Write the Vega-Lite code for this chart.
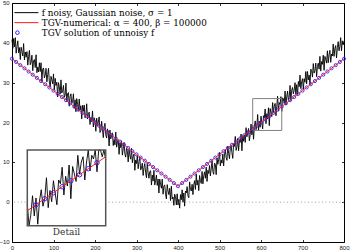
{
  "$schema": "https://vega.github.io/schema/vega-lite/v6.json",
  "width": 332,
  "height": 239,
  "autosize": {"type": "none"},
  "padding": {"left": 12, "top": 3, "right": 6, "bottom": 9},
  "background": "white",
  "config": {
    "view": {"stroke": null},
    "axis": {
      "domainColor": "black", "domainWidth": 1, "tickColor": "black", "tickSize": -2.5, "tickWidth": 0.8,
      "labelFont": "Liberation Sans", "labelFontSize": 6, "labelColor": "#222222",
      "labelOverlap": false, "labelFlush": false,
      "grid": false, "title": null
    },
    "axisX": {"labelPadding": 5},
    "axisY": {"labelPadding": 4.8}
  },
  "datasets": {
    "noisy": [
      {"x":0,"f":40.8},{"x":2,"f":38.6},{"x":4,"f":41.1},{"x":6,"f":39.0},{"x":8,"f":41.3},{"x":10,"f":37.4},{"x":12,"f":39.1},{"x":14,"f":40.5},{"x":16,"f":37.5},{"x":18,"f":38.8},{"x":20,"f":35.8},{"x":22,"f":38.9},{"x":24,"f":37.8},{"x":26,"f":36.7},{"x":28,"f":39.8},{"x":30,"f":35.7},{"x":32,"f":37.7},{"x":34,"f":36.4},{"x":36,"f":37.8},{"x":38,"f":34.4},
      {"x":40,"f":36.5},{"x":42,"f":38.1},{"x":44,"f":34.5},{"x":46,"f":35.1},{"x":48,"f":36.9},{"x":50,"f":33.0},{"x":52,"f":35.5},{"x":54,"f":35.8},{"x":56,"f":33.8},{"x":58,"f":37.0},{"x":60,"f":32.5},{"x":62,"f":33.9},{"x":64,"f":32.7},{"x":66,"f":35.0},{"x":68,"f":32.8},{"x":70,"f":35.0},{"x":72,"f":30.4},{"x":74,"f":33.4},{"x":76,"f":33.7},{"x":78,"f":31.2},
      {"x":80,"f":31.8},{"x":82,"f":33.6},{"x":84,"f":30.2},{"x":86,"f":32.0},{"x":88,"f":33.6},{"x":90,"f":30.2},{"x":92,"f":28.9},{"x":94,"f":31.6},{"x":96,"f":30.7},{"x":98,"f":29.7},{"x":100,"f":32.2},{"x":102,"f":28.1},{"x":104,"f":31.1},{"x":106,"f":29.3},{"x":108,"f":30.1},{"x":110,"f":26.4},{"x":112,"f":30.0},{"x":114,"f":29.0},{"x":116,"f":27.1},{"x":118,"f":30.7},
      {"x":120,"f":27.4},{"x":122,"f":28.0},{"x":124,"f":29.3},{"x":126,"f":26.3},{"x":128,"f":26.9},{"x":130,"f":29.9},{"x":132,"f":25.2},{"x":134,"f":27.3},{"x":136,"f":27.5},{"x":138,"f":24.1},{"x":140,"f":26.5},{"x":142,"f":27.2},{"x":144,"f":24.8},{"x":146,"f":25.2},{"x":148,"f":27.2},{"x":150,"f":23.6},{"x":152,"f":25.7},{"x":154,"f":22.7},{"x":156,"f":26.0},{"x":158,"f":24.5},
      {"x":160,"f":23.0},{"x":162,"f":25.9},{"x":164,"f":23.1},{"x":166,"f":24.2},{"x":168,"f":20.9},{"x":170,"f":24.3},{"x":172,"f":22.9},{"x":174,"f":24.4},{"x":176,"f":21.2},{"x":178,"f":21.8},{"x":180,"f":24.7},{"x":182,"f":20.9},{"x":184,"f":22.2},{"x":186,"f":22.6},{"x":188,"f":19.5},{"x":190,"f":21.2},{"x":192,"f":20.2},{"x":194,"f":22.9},{"x":196,"f":18.9},{"x":198,"f":21.2},
      {"x":200,"f":20.4},{"x":202,"f":17.8},{"x":204,"f":21.1},{"x":206,"f":19.2},{"x":208,"f":20.1},{"x":210,"f":21.4},{"x":212,"f":17.5},{"x":214,"f":17.9},{"x":216,"f":20.3},{"x":218,"f":18.2},{"x":220,"f":16.2},{"x":222,"f":18.9},{"x":224,"f":19.8},{"x":226,"f":16.9},{"x":228,"f":16.1},{"x":230,"f":18.4},{"x":232,"f":17.4},{"x":234,"f":14.1},{"x":236,"f":18.1},{"x":238,"f":15.9},
      {"x":240,"f":16.8},{"x":242,"f":17.4},{"x":244,"f":14.2},{"x":246,"f":15.7},{"x":248,"f":14.4},{"x":250,"f":17.6},{"x":252,"f":13.8},{"x":254,"f":15.1},{"x":256,"f":15.7},{"x":258,"f":12.0},{"x":260,"f":14.9},{"x":262,"f":13.7},{"x":264,"f":15.4},{"x":266,"f":11.8},{"x":268,"f":13.4},{"x":270,"f":15.0},{"x":272,"f":12.1},{"x":274,"f":11.3},{"x":276,"f":13.5},{"x":278,"f":12.8},
      {"x":280,"f":10.1},{"x":282,"f":13.2},{"x":284,"f":11.7},{"x":286,"f":10.8},{"x":288,"f":13.5},{"x":290,"f":9.9},{"x":292,"f":11.5},{"x":294,"f":12.1},{"x":296,"f":8.0},{"x":298,"f":10.6},{"x":300,"f":9.7},{"x":302,"f":11.7},{"x":304,"f":8.4},{"x":306,"f":10.2},{"x":308,"f":11.3},{"x":310,"f":8.1},{"x":312,"f":8.6},{"x":314,"f":9.8},{"x":316,"f":6.7},{"x":318,"f":8.7},
      {"x":320,"f":9.7},{"x":322,"f":7.4},{"x":324,"f":6.1},{"x":326,"f":9.9},{"x":328,"f":7.4},{"x":330,"f":6.0},{"x":332,"f":7.7},{"x":334,"f":7.9},{"x":336,"f":4.3},{"x":338,"f":6.8},{"x":340,"f":5.3},{"x":342,"f":8.0},{"x":344,"f":4.3},{"x":346,"f":5.4},{"x":348,"f":6.8},{"x":350,"f":4.2},{"x":352,"f":5.8},{"x":354,"f":2.3},{"x":356,"f":5.8},{"x":358,"f":4.5},
      {"x":360,"f":3.5},{"x":362,"f":5.8},{"x":364,"f":2.0},{"x":366,"f":4.1},{"x":368,"f":4.3},{"x":370,"f":2.1},{"x":372,"f":0.8},{"x":374,"f":4.4},{"x":376,"f":2.8},{"x":378,"f":1.9},{"x":380,"f":3.5},{"x":382,"f":0.4},{"x":384,"f":4.0},{"x":386,"f":0.8},{"x":388,"f":1.3},{"x":390,"f":-0.8},{"x":392,"f":2.0},{"x":394,"f":1.4},{"x":396,"f":-0.7},{"x":398,"f":2.1},
      {"x":400,"f":-0.7},{"x":402,"f":0.7},{"x":404,"f":-1.5},{"x":406,"f":1.9},{"x":408,"f":0.6},{"x":410,"f":3.1},{"x":412,"f":0.0},{"x":414,"f":2.3},{"x":416,"f":-1.0},{"x":418,"f":2.8},{"x":420,"f":2.3},{"x":422,"f":3.9},{"x":424,"f":1.6},{"x":426,"f":1.1},{"x":428,"f":5.1},{"x":430,"f":3.2},{"x":432,"f":2.8},{"x":434,"f":4.5},{"x":436,"f":1.9},{"x":438,"f":4.4},
      {"x":440,"f":5.4},{"x":442,"f":3.2},{"x":444,"f":7.0},{"x":446,"f":4.3},{"x":448,"f":5.5},{"x":450,"f":2.9},{"x":452,"f":6.7},{"x":454,"f":5.4},{"x":456,"f":4.7},{"x":458,"f":7.7},{"x":460,"f":4.6},{"x":462,"f":6.6},{"x":464,"f":7.6},{"x":466,"f":6.0},{"x":468,"f":8.8},{"x":470,"f":5.2},{"x":472,"f":8.0},{"x":474,"f":7.2},{"x":476,"f":9.2},{"x":478,"f":6.6},
      {"x":480,"f":8.3},{"x":482,"f":10.4},{"x":484,"f":7.7},{"x":486,"f":7.0},{"x":488,"f":9.8},{"x":490,"f":9.5},{"x":492,"f":6.9},{"x":494,"f":11.1},{"x":496,"f":9.5},{"x":498,"f":10.7},{"x":500,"f":12.5},{"x":502,"f":9.1},{"x":504,"f":10.6},{"x":506,"f":9.8},{"x":508,"f":12.1},{"x":510,"f":9.1},{"x":512,"f":11.8},{"x":514,"f":13.2},{"x":516,"f":11.2},{"x":518,"f":10.5},
      {"x":520,"f":14.1},{"x":522,"f":12.3},{"x":524,"f":10.9},{"x":526,"f":13.4},{"x":528,"f":14.2},{"x":530,"f":12.4},{"x":532,"f":11.0},{"x":534,"f":14.6},{"x":536,"f":14.0},{"x":538,"f":16.5},{"x":540,"f":13.0},{"x":542,"f":13.9},{"x":544,"f":16.0},{"x":546,"f":12.9},{"x":548,"f":15.5},{"x":550,"f":15.0},{"x":552,"f":17.1},{"x":554,"f":12.9},{"x":556,"f":16.7},{"x":558,"f":15.3},
      {"x":560,"f":16.9},{"x":562,"f":15.0},{"x":564,"f":18.7},{"x":566,"f":16.4},{"x":568,"f":17.4},{"x":570,"f":18.5},{"x":572,"f":15.4},{"x":574,"f":17.0},{"x":576,"f":19.6},{"x":578,"f":16.9},{"x":580,"f":19.3},{"x":582,"f":15.8},{"x":584,"f":18.9},{"x":586,"f":20.4},{"x":588,"f":18.2},{"x":590,"f":19.2},{"x":592,"f":22.0},{"x":594,"f":18.0},{"x":596,"f":20.3},{"x":598,"f":18.8},
      {"x":600,"f":21.6},{"x":602,"f":19.9},{"x":604,"f":18.4},{"x":606,"f":21.7},{"x":608,"f":21.2},{"x":610,"f":23.4},{"x":612,"f":19.7},{"x":614,"f":22.2},{"x":616,"f":20.9},{"x":618,"f":23.7},{"x":620,"f":19.2},{"x":622,"f":23.5},{"x":624,"f":22.5},{"x":626,"f":21.5},{"x":628,"f":25.0},{"x":630,"f":22.5},{"x":632,"f":24.1},{"x":634,"f":24.8},{"x":636,"f":21.7},{"x":638,"f":24.1},
      {"x":640,"f":26.6},{"x":642,"f":22.9},{"x":644,"f":25.0},{"x":646,"f":24.5},{"x":648,"f":26.5},{"x":650,"f":22.8},{"x":652,"f":26.2},{"x":654,"f":25.9},{"x":656,"f":24.8},{"x":658,"f":27.9},{"x":660,"f":24.4},{"x":662,"f":26.4},{"x":664,"f":27.9},{"x":666,"f":25.6},{"x":668,"f":26.4},{"x":670,"f":29.3},{"x":672,"f":25.5},{"x":674,"f":28.1},{"x":676,"f":28.8},{"x":678,"f":27.2},
      {"x":680,"f":28.1},{"x":682,"f":30.0},{"x":684,"f":27.0},{"x":686,"f":29.5},{"x":688,"f":26.8},{"x":690,"f":30.3},{"x":692,"f":29.0},{"x":694,"f":31.9},{"x":696,"f":28.5},{"x":698,"f":30.2},{"x":700,"f":31.0},{"x":702,"f":28.4},{"x":704,"f":31.0},{"x":706,"f":30.1},{"x":708,"f":32.8},{"x":710,"f":29.7},{"x":712,"f":32.8},{"x":714,"f":30.7},{"x":716,"f":31.9},{"x":718,"f":29.5},
      {"x":720,"f":33.4},{"x":722,"f":33.0},{"x":724,"f":31.4},{"x":726,"f":34.8},{"x":728,"f":32.4},{"x":730,"f":33.0},{"x":732,"f":34.9},{"x":734,"f":31.5},{"x":736,"f":34.1},{"x":738,"f":34.9},{"x":740,"f":33.4},{"x":742,"f":36.6},{"x":744,"f":32.9},{"x":746,"f":35.3},{"x":748,"f":34.6},{"x":750,"f":36.9},{"x":752,"f":33.1},{"x":754,"f":36.6},{"x":756,"f":35.9},{"x":758,"f":34.9},
      {"x":760,"f":38.0},{"x":762,"f":35.0},{"x":764,"f":37.0},{"x":766,"f":38.1},{"x":768,"f":35.1},{"x":770,"f":37.2},{"x":772,"f":36.7},{"x":774,"f":39.7},{"x":776,"f":36.6},{"x":778,"f":38.6},{"x":780,"f":39.3},{"x":782,"f":36.2},{"x":784,"f":38.8},{"x":786,"f":40.3},{"x":788,"f":38.0},{"x":790,"f":39.1},{"x":792,"f":41.3},{"x":794,"f":38.0},{"x":796,"f":40.5},{"x":798,"f":39.5},
      {"x":800,"f":40.5}
    ],
    "tgv": [
      {"x":0,"t":36},{"x":10,"t":35.2},{"x":20,"t":34.4},{"x":30,"t":33.6},{"x":40,"t":32.8},{"x":50,"t":32},{"x":60,"t":31.2},{"x":70,"t":30.4},{"x":80,"t":29.6},{"x":90,"t":28.8},
      {"x":100,"t":28},{"x":110,"t":27.2},{"x":120,"t":26.4},{"x":130,"t":25.6},{"x":140,"t":24.8},{"x":150,"t":24},{"x":160,"t":23.2},{"x":170,"t":22.4},{"x":180,"t":21.6},{"x":190,"t":20.8},
      {"x":200,"t":20},{"x":210,"t":19.2},{"x":220,"t":18.4},{"x":230,"t":17.6},{"x":240,"t":16.8},{"x":250,"t":16},{"x":260,"t":15.2},{"x":270,"t":14.4},{"x":280,"t":13.6},{"x":290,"t":12.8},
      {"x":300,"t":12},{"x":310,"t":11.2},{"x":320,"t":10.4},{"x":330,"t":9.6},{"x":340,"t":8.8},{"x":350,"t":8},{"x":360,"t":7.2},{"x":370,"t":6.4},{"x":380,"t":5.6},{"x":390,"t":4.8},
      {"x":400,"t":4},
      {"x":410,"t":4.8},{"x":420,"t":5.6},{"x":430,"t":6.4},{"x":440,"t":7.2},{"x":450,"t":8},{"x":460,"t":8.8},{"x":470,"t":9.6},{"x":480,"t":10.4},{"x":490,"t":11.2},{"x":500,"t":12},
      {"x":510,"t":12.8},{"x":520,"t":13.6},{"x":530,"t":14.4},{"x":540,"t":15.2},{"x":550,"t":16},{"x":560,"t":16.8},{"x":570,"t":17.6},{"x":580,"t":18.4},{"x":590,"t":19.2},{"x":600,"t":20},
      {"x":610,"t":20.8},{"x":620,"t":21.6},{"x":630,"t":22.4},{"x":640,"t":23.2},{"x":650,"t":24},{"x":660,"t":24.8},{"x":670,"t":25.6},{"x":680,"t":26.4},{"x":690,"t":27.2},{"x":700,"t":28},
      {"x":710,"t":28.8},{"x":720,"t":29.6},{"x":730,"t":30.4},{"x":740,"t":31.2},{"x":750,"t":32},{"x":760,"t":32.8},{"x":770,"t":33.6},{"x":780,"t":34.4},{"x":790,"t":35.2},{"x":800,"t":36}
    ],
    "zoombox": [{"x0":580,"x1":650,"y0":18,"y1":26}],
    "one": [{"label":"Detail"}],
    "yticks": [{"v":-10},{"v":0},{"v":10},{"v":20},{"v":30},{"v":40},{"v":50}]
  },
  "layer": [
    {
      "layer": [
        {
          "data": {"name": "noisy"},
          "mark": {"type": "line", "strokeWidth": 0.9},
          "encoding": {
            "x": {"field": "x", "type": "quantitative", "scale": {"domain": [0, 800], "nice": false, "zero": false},
                  "axis": {"values": [0, 100, 200, 300, 400, 500, 600, 700, 800], "title": null, "labelOverlap": false}},
            "y": {"field": "f", "type": "quantitative", "scale": {"domain": [-10, 50], "nice": false, "zero": false},
                  "axis": {"values": [-10, 0, 10, 20, 30, 40, 50], "title": null, "labels": false}},
            "color": {
              "datum": "f noisy, Gaussian noise, σ = 1", "type": "nominal",
              "scale": {
                "domain": ["f noisy, Gaussian noise, σ = 1", "TGV-numerical: α = 400, β = 100000", "TGV solution of unnoisy f"],
                "range": ["#000000", "#ff1a1a", "#2a2aff"]
              },
              "legend": {
                "title": null, "orient": "none", "legendX": 1, "legendY": 5, "padding": 0,
                "labelFont": "DejaVu Serif", "labelFontSize": 8.8, "labelColor": "black", "labelLimit": 300,
                "rowPadding": 0, "clipHeight": 9.3, "symbolSize": 36, "symbolType": "M-1,0H7", "symbolStrokeWidth": 1, "labelOffset": 20,
                "encode": {
                  "symbols": {
                    "update": {
                      "shape": {"signal": "datum.value === 'TGV solution of unnoisy f' ? 'circle' : 'M-1,0H7'"},
                      "size": {"signal": "datum.value === 'TGV solution of unnoisy f' ? 13 : 36"},
                      "fill": {"value": "transparent"},
                      "stroke": {"scale": "color", "field": "value"},
                      "strokeWidth": {"value": 1}
                    }
                  }
                }
              }
            }
          }
        },
        {
          "data": {"name": "one"},
          "mark": {"type": "rule", "color": "#8c8c8c", "strokeWidth": 0.8, "strokeDash": [1, 2.5]},
          "encoding": {
            "y": {"datum": 0, "type": "quantitative"}
          }
        },
        {
          "data": {"name": "zoombox"},
          "mark": {"type": "rect", "fillOpacity": 0, "stroke": "#808080", "strokeWidth": 1},
          "encoding": {
            "x": {"field": "x0", "type": "quantitative"},
            "x2": {"field": "x1"},
            "y": {"field": "y0", "type": "quantitative"},
            "y2": {"field": "y1"}
          }
        },
        {
          "data": {"name": "tgv"},
          "mark": {"type": "point", "filled": false, "size": 10, "strokeWidth": 0.9, "opacity": 1},
          "encoding": {
            "x": {"field": "x", "type": "quantitative"},
            "y": {"field": "t", "type": "quantitative"},
            "color": {"datum": "TGV solution of unnoisy f", "type": "nominal"}
          }
        },
        {
          "data": {"name": "tgv"},
          "mark": {"type": "line", "strokeWidth": 1},
          "encoding": {
            "x": {"field": "x", "type": "quantitative"},
            "y": {"field": "t", "type": "quantitative"},
            "color": {"datum": "TGV-numerical: α = 400, β = 100000", "type": "nominal"}
          }
        }
      ]
    },
    {
      "data": {"name": "yticks"},
      "mark": {"type": "text", "align": "right", "baseline": "middle", "font": "Liberation Sans", "fontSize": 6, "color": "#222222", "dx": -2.3},
      "encoding": {
        "text": {"field": "v", "type": "quantitative"},
        "x": {"datum": 0, "type": "quantitative", "scale": {"domain": [0, 800], "nice": false, "zero": false},
              "axis": {"orient": "top", "labels": false, "values": [0, 100, 200, 300, 400, 500, 600, 700, 800], "title": null}},
        "y": {"field": "v", "type": "quantitative", "scale": {"domain": [-10, 50], "nice": false, "zero": false},
              "axis": {"orient": "right", "labels": false, "values": [-10, 0, 10, 20, 30, 40, 50], "title": null}}
      }
    },
    {
      "layer": [
        {
          "data": {"name": "one"},
          "mark": {"type": "rect", "fill": "white"},
          "encoding": {
            "x": {"datum": 570, "type": "quantitative",
                  "scale": {"domain": [570, 660], "range": [15.3, 93.7], "nice": false, "zero": false}, "axis": null},
            "x2": {"datum": 660},
            "y": {"datum": 15.6, "type": "quantitative",
                  "scale": {"domain": [15.6, 25.7], "range": [222.7, 147], "nice": false, "zero": false, "clamp": true}, "axis": null},
            "y2": {"datum": 25.7}
          }
        },
        {
          "data": {"name": "noisy"},
          "transform": [{"filter": "datum.x >= 570 && datum.x <= 660"}],
          "mark": {"type": "line", "color": "black", "strokeWidth": 0.9},
          "encoding": {
            "x": {"field": "x", "type": "quantitative"},
            "y": {"field": "f", "type": "quantitative"}
          }
        },
        {
          "data": {"name": "tgv"},
          "transform": [{"filter": "datum.x >= 575 && datum.x <= 655"}],
          "mark": {"type": "point", "filled": false, "size": 20, "strokeWidth": 1, "color": "#2a2aff", "opacity": 1},
          "encoding": {
            "x": {"field": "x", "type": "quantitative"},
            "y": {"field": "t", "type": "quantitative"}
          }
        },
        {
          "data": {"name": "tgv"},
          "transform": [{"filter": "datum.x >= 570 && datum.x <= 660"}],
          "mark": {"type": "line", "color": "#ff1a1a", "strokeWidth": 1},
          "encoding": {
            "x": {"field": "x", "type": "quantitative"},
            "y": {"field": "t", "type": "quantitative"}
          }
        },
        {
          "data": {"name": "one"},
          "mark": {"type": "rect", "fillOpacity": 0, "stroke": "#555555", "strokeWidth": 1.5},
          "encoding": {
            "x": {"datum": 570, "type": "quantitative"},
            "x2": {"datum": 660},
            "y": {"datum": 15.6, "type": "quantitative"},
            "y2": {"datum": 25.7}
          }
        },
        {
          "data": {"name": "one"},
          "mark": {"type": "text", "font": "DejaVu Serif", "fontSize": 9, "color": "#333333", "baseline": "top", "align": "center", "dy": 2},
          "encoding": {
            "text": {"field": "label"},
            "x": {"datum": 615, "type": "quantitative"},
            "y": {"datum": 15.6, "type": "quantitative"}
          }
        }
      ]
    }
  ],
  "resolve": {"scale": {"x": "independent", "y": "independent"}}
}
